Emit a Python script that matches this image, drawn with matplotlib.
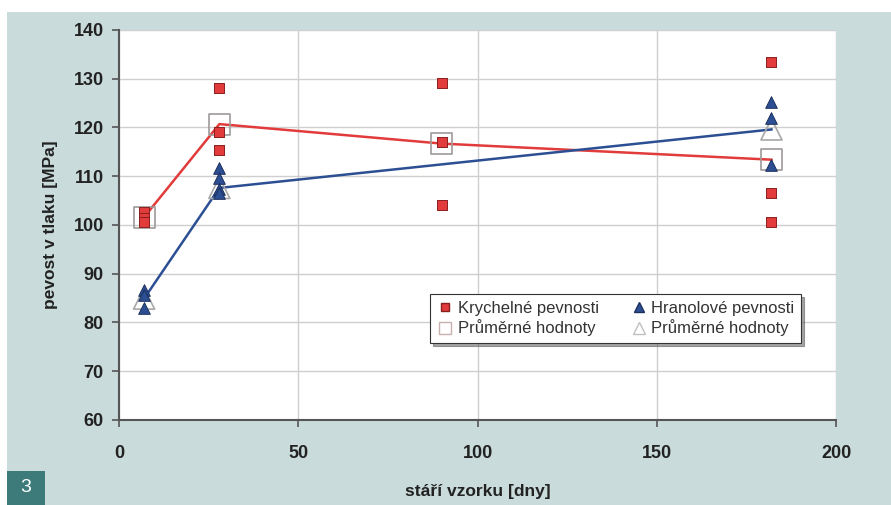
import matplotlib

matplotlib.use("Agg")
import matplotlib.pyplot as plt
from matplotlib.lines import Line2D
from matplotlib.patches import Rectangle

plt.rcParams["font.family"] = ["Liberation Sans", "DejaVu Sans"]

# Individual specimens: cube strengths (red) and prism strengths (blue)
cube_age = [7, 7, 7, 28, 28, 28, 90, 90, 90, 182, 182, 182]
cube_mpa = [102.7, 101.5, 100.7, 128.1, 119.1, 115.4, 129.1, 117.0, 104.1, 133.5, 106.6, 100.7]

prism_age = [7, 7, 7, 28, 28, 28, 28, 182, 182, 182]
prism_mpa = [86.7, 85.6, 83.0, 111.7, 109.6, 107.4, 106.6, 125.3, 121.9, 112.3]

# Mean values per age
cube_mean_age = [7, 28, 90, 182]
cube_mean_mpa = [101.6, 120.7, 116.7, 113.4]

prism_mean_age = [7, 28, 182]
prism_mean_mpa = [84.9, 107.6, 119.6]

RED = "#e23b3b"
BLUE = "#2c4f94"
PANEL = "#c9dbdb"
BADGE = "#3d7b7b"
TEXT = "#222222"

fig = plt.figure(figsize=(8.91, 5.05), dpi=100, facecolor="white")
# background panel and the figure number badge sit behind the axes
fig.patches.append(Rectangle((7 / 891, 0), 1, 1 - 12 / 505, transform=fig.transFigure,
                             facecolor=PANEL, edgecolor="none", zorder=-2))
fig.patches.append(Rectangle((7 / 891, 0), 38 / 891, 34 / 505, transform=fig.transFigure,
                             facecolor=BADGE, edgecolor="none", zorder=-1))
fig.text(26 / 891, 17 / 505, "3", color="white", fontsize=14, ha="center", va="center")

ax = fig.add_axes([119 / 891, 1 - 420 / 505, 717 / 891, 390 / 505])
ax.set_facecolor("white")

ax.plot(cube_mean_age, cube_mean_mpa, color=RED, lw=1.8, zorder=3)
ax.plot(prism_mean_age, prism_mean_mpa, color=BLUE, lw=1.8, zorder=3)

ax.scatter(cube_age, cube_mpa, marker="s", s=45, color=RED,
           edgecolors="#8a1f1f", linewidths=0.7, zorder=5)
ax.scatter(prism_age, prism_mpa, marker="^", s=70, color=BLUE,
           edgecolors="#1b2f5c", linewidths=0.7, zorder=5)
ax.scatter(cube_mean_age, cube_mean_mpa, marker="s", s=230,
           facecolors="none", edgecolors="#a09a9a", linewidths=1.2, zorder=4)
ax.scatter(prism_mean_age, prism_mean_mpa, marker="^", s=230,
           facecolors="none", edgecolors="#a8a8a8", linewidths=1.2, zorder=4)

ax.set_xlim(0, 200)
ax.set_ylim(60, 140)
ax.set_xticks([0, 50, 100, 150, 200])
ax.set_yticks(range(60, 141, 10))
ax.grid(True, color="#cfcfcf", lw=1)
ax.set_axisbelow(True)

for side in ("top", "right"):
    ax.spines[side].set_visible(False)
for side in ("left", "bottom"):
    ax.spines[side].set_color("#555555")
    ax.spines[side].set_linewidth(1.5)

ax.tick_params(direction="out", length=5, width=1.2, color="#555555",
               labelsize=13, labelcolor=TEXT)
ax.tick_params(axis="x", pad=13)
ax.tick_params(axis="y", pad=6)
for lbl in ax.get_xticklabels() + ax.get_yticklabels():
    lbl.set_fontweight("bold")

ax.set_xlabel("stáří vzorku [dny]", fontsize=12.5, fontweight="bold", color=TEXT, labelpad=16)
ax.set_ylabel("pevost v tlaku [MPa]", fontsize=12.5, fontweight="bold", color=TEXT, labelpad=11)

# small legend keys, all the same size
keys = [
    Line2D([], [], ls="none", marker="s", ms=6, color=RED, mec="#8a1f1f"),
    Line2D([], [], ls="none", marker="s", ms=8, mfc="none", mec="#c9b0b0"),
    Line2D([], [], ls="none", marker="^", ms=7, color=BLUE, mec="#1b2f5c"),
    Line2D([], [], ls="none", marker="^", ms=8, mfc="none", mec="#c0c0c0"),
]
leg = ax.legend(keys,
                ["Krychelné pevnosti", "Průměrné hodnoty",
                 "Hranolové pevnosti", "Průměrné hodnoty"],
                ncol=2, loc="upper left", bbox_to_anchor=(0.434, 0.322),
                borderaxespad=0, fontsize=12, frameon=True, fancybox=False,
                shadow=True, handlelength=1.0, handletextpad=0.25,
                columnspacing=1.9, borderpad=0.4, labelspacing=0.2)
leg.get_frame().set_edgecolor("#333333")
leg.get_frame().set_linewidth(0.8)
for t in leg.get_texts():
    t.set_color("#333333")

fig.savefig("out.png", dpi=100, facecolor=fig.get_facecolor())
